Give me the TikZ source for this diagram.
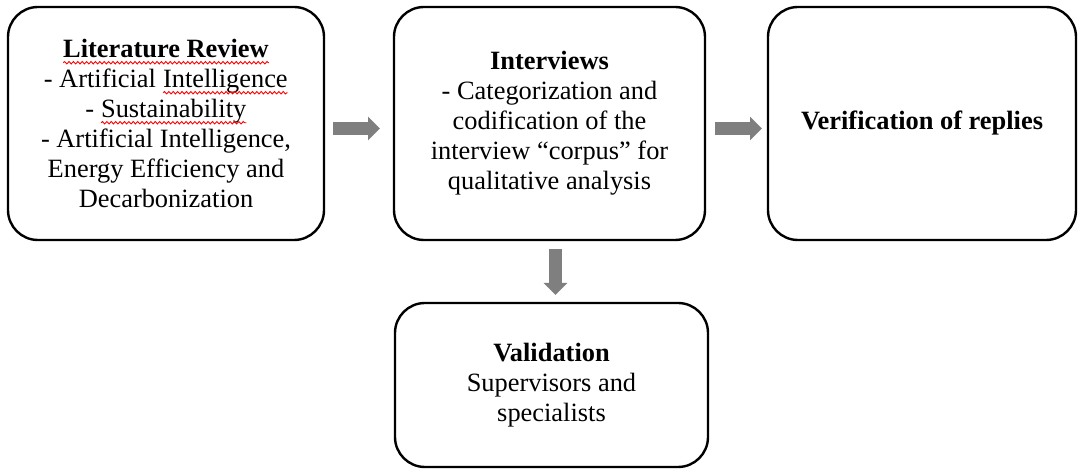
\documentclass[tikz,border=0pt]{standalone}
\usepackage{fontspec}
\setmainfont{Liberation Serif}
\usepackage{tikz}
\usetikzlibrary{arrows.meta,positioning,decorations.pathmorphing}
\definecolor{arrowgray}{HTML}{7F7F7F}
\tikzstyle{stage}=[draw, line width=1.2pt, rounded corners=15pt, align=center, font=\fontsize{13.2}{15}\selectfont, inner sep=0pt]
\tikzstyle{flow}=[arrowgray, line width=6.5pt, -{Triangle[length=6pt, width=11.5pt]}]
\tikzstyle{word}=[draw=none, inner sep=0pt, outer sep=0pt, minimum width=0pt, minimum height=0pt, rounded corners=0pt]
\tikzstyle{wave}=[red, line width=0.45pt, rounded corners=0pt, decorate, decoration={snake, segment length=2.2pt, amplitude=0.6pt}]
\newcommand{\spellwave}[1]{\tikz[baseline=(w.base)]{\node[word] (w) {#1};
    \draw[wave] ([yshift=-2.6pt]w.base west) -- ([yshift=-2.6pt]w.base east);}}

\begin{document}
\begin{tikzpicture}[x=0.5pt, y=-0.5pt]
    \useasboundingbox (0,0) rectangle (1078,470);

    % Fasi
    \node[stage, minimum width=158pt, minimum height=116.5pt] (lit) at (166,123.5)
        {\textbf{\spellwave{Literature Review}}\\- Artificial \spellwave{Intelligence}\\- \spellwave{Sustainability}\\- Artificial Intelligence,\\Energy Efficiency and\\Decarbonization};
    \node[stage, minimum width=155.5pt, minimum height=116.5pt] (int) at (549.5,123.5)
        {\textbf{Interviews}\\- Categorization and\\codification of the\\interview “corpus” for\\qualitative analysis};
    \node[stage, minimum width=154pt, minimum height=116.5pt] (ver) at (922,123.5)
        {\textbf{Verification of replies}};
    \node[stage, minimum width=156.5pt, minimum height=82pt] (val) at (551.5,385)
        {\textbf{Validation}\\Supervisors and\\specialists};

    % Frecce
    \draw[flow, shorten <=4pt, shorten >=6.4pt] ([yshift=-2.5pt]lit.east) -- ([yshift=-2.5pt]int.west);
    \draw[flow, shorten <=4.4pt, shorten >=2.4pt] ([yshift=-2.5pt]int.east) -- ([yshift=-2.5pt]ver.west);
    \draw[flow, shorten <=3.9pt, shorten >=3.4pt] ([xshift=3pt]int.south) -- ([xshift=2pt]val.north);
\end{tikzpicture}
\end{document}
